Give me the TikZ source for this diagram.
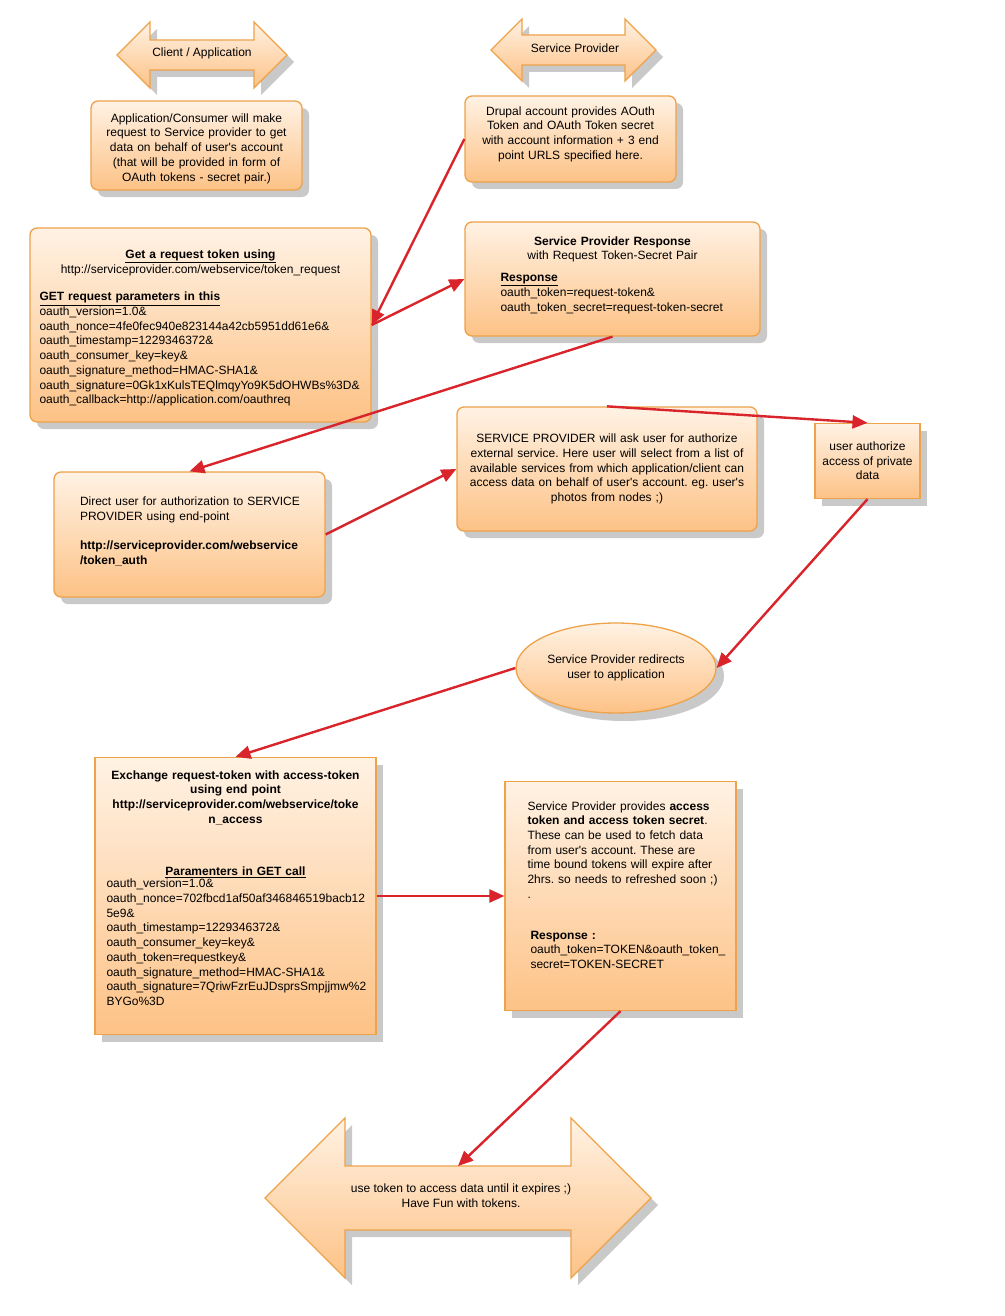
\documentclass[tikz,border=0pt]{standalone}
\usepackage{fontspec}
\setmainfont{Liberation Sans}[Ligatures=TeXOff]
\usetikzlibrary{arrows.meta, positioning, shapes.geometric, shadows}

\definecolor{boxtop}{HTML}{FFF2E4}
\definecolor{boxbot}{HTML}{FDC286}
\definecolor{boxline}{HTML}{EEA24A}
\definecolor{shadowgray}{HTML}{C9C9C9}
\definecolor{flowred}{HTML}{D8242A}

% centre x, centre y, half length, half head, half shaft
\newcommand{\twowayarrow}[5]{%
  \path[arrowcard] ({#1-#3},#2) -- ({#1-#3+#4},{#2-#4}) -- ({#1-#3+#4},{#2-#5})
    -- ({#1+#3-#4},{#2-#5}) -- ({#1+#3-#4},{#2-#4}) -- ({#1+#3},#2)
    -- ({#1+#3-#4},{#2+#4}) -- ({#1+#3-#4},{#2+#5}) -- ({#1-#3+#4},{#2+#5})
    -- ({#1-#3+#4},{#2+#4}) -- cycle;}
% nudge the text of a card up (padbelow) or down (padabove)
\newcommand{\padbelow}[1]{\par\vspace*{#1}\hrule height0pt depth0pt width0pt}
\newcommand{\padabove}[1]{\hrule height0pt depth0pt width0pt\vspace*{#1}}

\frenchspacing

\begin{document}
\begin{tikzpicture}[x=1pt, y=-1pt,
  every node/.style={font=\fontsize{12}{14.7}\selectfont\frenchspacing, inner sep=0pt},
  card/.style={draw=boxline, line width=1.3pt, rounded corners=7pt,
    top color=boxtop, bottom color=boxbot,
    drop shadow={shadow xshift=7pt, shadow yshift=-7pt, fill=shadowgray, opacity=1}},
  flatcard/.style={card, sharp corners},
  arrowcard/.style={flatcard},
  flow/.style={draw=flowred, line width=2.4pt, -{Triangle[length=15pt, width=13pt]}}]

  \fill[white] (0,0) rectangle (1004,1316);

  % lane headers
  \twowayarrow{202}{55}{85}{33}{15}
  \node (clientlane) at (202,53) {Client / Application};
  \twowayarrow{573.5}{50}{82.5}{31}{15}
  \node (providerlane) at (575,48) {Service Provider};

  % request token
  \node[card, minimum width=211, minimum height=89, text width=205, align=center]
    (consumer) at (196.5,145.5)
    {\padabove{6pt}Application/Consumer will make\\ request to Service provider to get\\
     data on behalf of user's account\\ (that will be provided in form of\\
     OAuth tokens - secret pair.)};
  \node[card, minimum width=211, minimum height=86, text width=205, align=center]
    (drupal) at (570.5,139)
    {Drupal account provides AOuth\\ Token and OAuth Token secret\\
     with account information + 3 end\\ point URLS specified here.\padbelow{10pt}};
  \node[card, minimum width=341, minimum height=194, text width=322]
    (getreq) at (200.5,325)
    {\padabove{6pt}{\centering\textbf{\underline{Get a request token using}}\\
      http://serviceprovider.com/webservice/token\_request\par}
     \vspace{13pt}
     {\raggedright\textbf{\underline{GET request parameters in this}}\\
      oauth\_version=1.0\&\\
      oauth\_nonce=4fe0fec940e823144a42cb5951dd61e6\&\\
      oauth\_timestamp=1229346372\&\\
      oauth\_consumer\_key=key\&\\
      oauth\_signature\_method=HMAC-SHA1\&\\
      oauth\_signature=0Gk1xKulsTEQlmqyYo9K5dOHWBs\%3D\&\\
      oauth\_callback=http://application.com/oauthreq\par}};
  \node[card, minimum width=295, minimum height=114, text width=224]
    (spresp) at (612.5,279)
    {{\centering\textbf{Service Provider Response}\\ with Request Token-Secret Pair\par}
     \vspace{7pt}
     {\raggedright\textbf{\underline{Response}}\\ oauth\_token=request-token\&\\
      oauth\_token\_secret=request-token-secret\par}\padbelow{8pt}};

  % authorization
  \node[card, minimum width=271, minimum height=125, text width=219]
    (direct) at (189.5,534.5)
    {{\raggedright\mbox{Direct user for authorization to SERVICE}\\ PROVIDER using end-point\par}
     \vspace{14.7pt}
     {\raggedright\textbf{\mbox{http://serviceprovider.com/webservice}\\ /token\_auth}\par}\padbelow{6pt}};
  \node[card, minimum width=300, minimum height=124, text width=290, align=center]
    (spask) at (607,469)
    {SERVICE PROVIDER will ask user for authorize\\
     external service. Here user will select from a list of\\
     available services from which application/client can\\
     access data on behalf of user's account. eg. user's\\ photos from nodes ;)};
  \node[flatcard, minimum width=105, minimum height=75, align=center]
    (userauth) at (867.5,461) {user authorize\\ access of private\\ data};
  \node[card, ellipse, minimum width=200, minimum height=90, align=center,
    drop shadow={shadow xshift=8pt, shadow yshift=-8pt, fill=shadowgray, opacity=1}]
    (redirect) at (616,668) {Service Provider redirects\\ user to application};

  % access token
  \node[flatcard, minimum width=281, minimum height=277, text width=258]
    (exchange) at (235.5,896)
    {{\centering\textbf{Exchange request-token with access-token\\ using end point\\
       http://serviceprovider.com/webservice/toke\\ n\_access}\par}
     \vspace{38pt}
     {\centering\textbf{\underline{Paramenters in GET call}}\par}
     \vspace{-2.7pt}
     {\raggedright oauth\_version=1.0\&\\
      oauth\_nonce=702fbcd1af50af346846519bacb12\\ 5e9\&\\
      oauth\_timestamp=1229346372\&\\
      oauth\_consumer\_key=key\&\\
      oauth\_token=requestkey\&\\
      oauth\_signature\_method=HMAC-SHA1\&\\
      oauth\_signature=7QriwFzrEuJDsprsSmpjjmw\%2\\ BYGo\%3D\par}\padbelow{16pt}};
  \node[flatcard, minimum width=231, minimum height=229, text width=186]
    (spgive) at (620.5,896)
    {{\raggedright Service Provider provides \textbf{access}\\
      \textbf{token and access token secret}.\\ These can be used to fetch data\\
      from user's account. These are\\ \mbox{time bound tokens will expire after}\\
      \mbox{2hrs. so needs to refreshed soon ;)}\\ .\par}
     \vspace{26pt}
     {\raggedright\leftskip=3pt \textbf{Response :}\\
      \mbox{oauth\_token=TOKEN\&oauth\_token\_}\\ secret=TOKEN-SECRET\par}\padbelow{22pt}};

  % final step
  \twowayarrow{458}{1198}{193}{80}{32}
  \coordinate (funtop) at (458,1166);
  \node[align=center] (havefun) at (461,1195.5)
    {use token to access data until it expires ;)\\ Have Fun with tokens.};

  % flow
  \draw[flow] (drupal.west) -- (getreq.east);
  \draw[flow] (getreq.east) -- (spresp.west);
  \draw[flow] (spresp.south) -- (direct.north);
  \draw[flow] (direct.east) -- (spask.west);
  \draw[flow] (spask.north) -- (userauth.north);
  \draw[flow] (userauth.south) -- (redirect.east);
  \draw[flow] (redirect.west) -- (exchange.north);
  \draw[flow] (exchange.east) -- (spgive.west);
  \draw[flow] (spgive.south) -- (funtop);
\end{tikzpicture}
\end{document}
